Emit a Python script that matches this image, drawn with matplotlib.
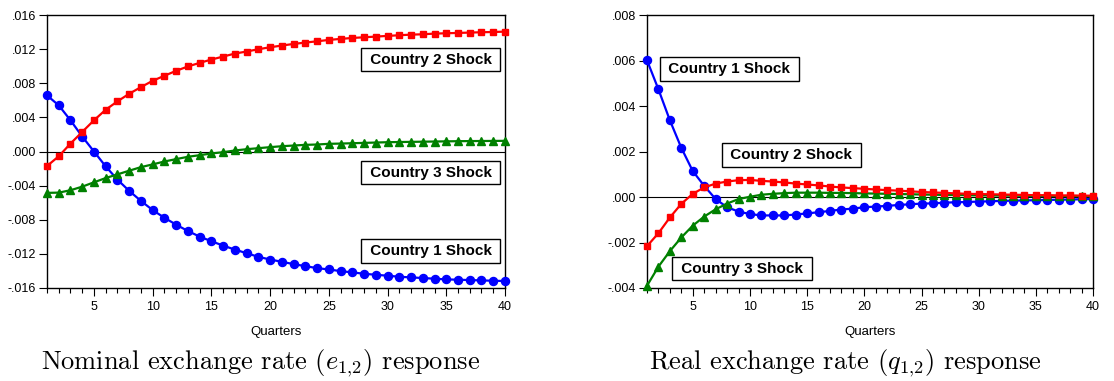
import numpy as np
import matplotlib
matplotlib.use("Agg")
import matplotlib.pyplot as plt
from matplotlib.ticker import FuncFormatter, MultipleLocator

plt.rcParams["mathtext.fontset"] = "cm"

quarters = np.arange(1, 41)

# Nominal exchange rate e(1,2) impulse responses
nom_c1 = [0.00658, 0.00541, 0.00366, 0.00175, 0.00000, -0.00175, -0.00330, -0.00462,
          -0.00579, -0.00687, -0.00777, -0.00858, -0.00932, -0.00998, -0.01052, -0.01103,
          -0.01150, -0.01192, -0.01235, -0.01266, -0.01293, -0.01320, -0.01344, -0.01367,
          -0.01383, -0.01402, -0.01417, -0.01433, -0.01445, -0.01456, -0.01468, -0.01476,
          -0.01483, -0.01491, -0.01499, -0.01503, -0.01507, -0.01511, -0.01515, -0.01518]
nom_c2 = [-0.00170, -0.00056, 0.00093, 0.00230, 0.00366, 0.00490, 0.00588, 0.00677,
          0.00755, 0.00829, 0.00888, 0.00946, 0.00997, 0.01039, 0.01078, 0.01113,
          0.01148, 0.01172, 0.01199, 0.01222, 0.01242, 0.01261, 0.01277, 0.01292,
          0.01308, 0.01320, 0.01331, 0.01339, 0.01347, 0.01355, 0.01363, 0.01370,
          0.01374, 0.01382, 0.01386, 0.01390, 0.01394, 0.01398, 0.01401, 0.01405]
nom_c3 = [-0.00485, -0.00482, -0.00454, -0.00412, -0.00361, -0.00311, -0.00268, -0.00225,
          -0.00183, -0.00151, -0.00117, -0.00089, -0.00062, -0.00043, -0.00023, -0.00008,
          0.00012, 0.00027, 0.00039, 0.00051, 0.00062, 0.00070, 0.00078, 0.00082,
          0.00090, 0.00093, 0.00097, 0.00101, 0.00105, 0.00109, 0.00111, 0.00113,
          0.00115, 0.00117, 0.00119, 0.00121, 0.00122, 0.00123, 0.00124, 0.00125]

# Real exchange rate q(1,2) impulse responses
real_c1 = [0.00601, 0.00473, 0.00337, 0.00216, 0.00114, 0.00049, -0.00009, -0.00045,
           -0.00064, -0.00075, -0.00081, -0.00081, -0.00081, -0.00077, -0.00072, -0.00067,
           -0.00061, -0.00055, -0.00051, -0.00045, -0.00042, -0.00039, -0.00035, -0.00032,
           -0.00029, -0.00028, -0.00025, -0.00023, -0.00022, -0.00020, -0.00019, -0.00017,
           -0.00016, -0.00015, -0.00014, -0.00013, -0.00012, -0.00011, -0.00010, -0.00009]
real_c2 = [-0.00216, -0.00159, -0.00090, -0.00030, 0.00014, 0.00042, 0.00059, 0.00068,
           0.00074, 0.00075, 0.00071, 0.00068, 0.00064, 0.00059, 0.00055, 0.00051,
           0.00046, 0.00042, 0.00039, 0.00036, 0.00033, 0.00030, 0.00028, 0.00025,
           0.00022, 0.00020, 0.00018, 0.00016, 0.00014, 0.00013, 0.00012, 0.00011,
           0.00010, 0.00009, 0.00008, 0.00008, 0.00007, 0.00007, 0.00006, 0.00006]
real_c3 = [-0.00390, -0.00306, -0.00238, -0.00178, -0.00126, -0.00086, -0.00054, -0.00029,
           -0.00009, 0.00001, 0.00010, 0.00014, 0.00017, 0.00019, 0.00019, 0.00019,
           0.00018, 0.00018, 0.00017, 0.00016, 0.00015, 0.00014, 0.00013, 0.00012,
           0.00011, 0.00010, 0.00009, 0.00009, 0.00008, 0.00007, 0.00007, 0.00006,
           0.00006, 0.00005, 0.00005, 0.00005, 0.00004, 0.00004, 0.00004, 0.00003]

shock_names = ["Country 1 Shock", "Country 2 Shock", "Country 3 Shock"]
captions = [r"Nominal exchange rate $(e_{1{,}2})$ response",
            r"Real exchange rate $(q_{1{,}2})$ response"]

BLUE, RED, GREEN = "#0000ff", "#ff0000", "#008000"
SANS = "Liberation Sans"


def tick_fmt(v, pos):
    s = f"{v:.3f}"
    return s.replace("0.", ".", 1)


def style_axes(ax, ylim, ystep):
    ax.set_xlim(1, 40)
    ax.set_ylim(*ylim)
    ax.yaxis.set_major_locator(MultipleLocator(ystep))
    ax.yaxis.set_major_formatter(FuncFormatter(tick_fmt))
    ax.xaxis.set_major_locator(MultipleLocator(5))
    ax.xaxis.set_minor_locator(MultipleLocator(1))
    ax.tick_params(axis="both", which="major", direction="out", length=5.5,
                   width=0.8, labelsize=9, pad=2.5, colors="black")
    ax.tick_params(axis="x", which="major", pad=4)
    ax.tick_params(axis="x", which="minor", direction="out", length=3.5, width=0.8)
    ax.tick_params(top=False, right=False, which="both")
    for lab in ax.get_xticklabels() + ax.get_yticklabels():
        lab.set_fontfamily(SANS)
    for sp in ax.spines.values():
        sp.set_linewidth(1.0)
        sp.set_color("black")
    ax.axhline(0, color="black", lw=0.8, zorder=1)
    ax.set_xlabel("Quarters", fontsize=9.5, fontfamily=SANS, labelpad=9)


def draw_series(ax, c1, c2, c3):
    ax.plot(quarters, c1, color=BLUE, lw=1.6, marker="o", ms=5.8, mec=BLUE,
            clip_on=False, zorder=3)
    ax.plot(quarters, c2, color=RED, lw=1.6, marker="s", ms=4.5, mec=RED,
            clip_on=False, zorder=4)
    ax.plot(quarters, c3, color=GREEN, lw=1.6, marker="^", ms=5.4, mec=GREEN,
            clip_on=False, zorder=3)


def shock_label(ax, x, y, text):
    ax.text(x, y, " " + text + " ", transform=ax.transAxes, ha="center", va="center",
            fontsize=11, fontweight="bold", fontfamily=SANS, zorder=6,
            bbox=dict(boxstyle="square,pad=0.3", fc="white", ec="black", lw=1.0))


fig = plt.figure(figsize=(11.14, 3.81), dpi=100)
ax1 = fig.add_axes([0.0422, 0.2441, 0.4111, 0.7165])
ax2 = fig.add_axes([0.5808, 0.2441, 0.4004, 0.7165])

draw_series(ax1, nom_c1, nom_c2, nom_c3)
style_axes(ax1, (-0.016, 0.016), 0.004)
shock_label(ax1, 0.838, 0.837, shock_names[1])
shock_label(ax1, 0.838, 0.423, shock_names[2])
shock_label(ax1, 0.838, 0.1355, shock_names[0])

draw_series(ax2, real_c1, real_c2, real_c3)
style_axes(ax2, (-0.004, 0.008), 0.002)
shock_label(ax2, 0.185, 0.802, shock_names[0])
shock_label(ax2, 0.324, 0.487, shock_names[1])
shock_label(ax2, 0.213, 0.071, shock_names[2])

fig.text(261 / 1114, 1 - 363 / 381, captions[0], ha="center", va="center",
         fontsize=19, fontfamily="cmr10")
fig.text(845 / 1114, 1 - 363 / 381, captions[1], ha="center", va="center",
         fontsize=19, fontfamily="cmr10")

fig.savefig("out.png", dpi=100)
